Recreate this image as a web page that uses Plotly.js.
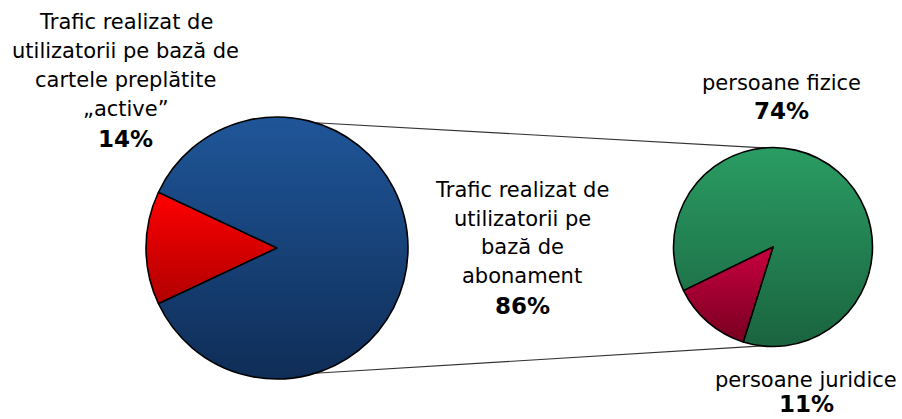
<!DOCTYPE html>
<html>
<head>
<meta charset="utf-8">
<script src="https://cdn.plot.ly/plotly-3.0.1.min.js"></script>
<style>html,body{margin:0;padding:0;background:#fff;}#chart{width:902px;height:419px;}</style>
</head>
<body>
<div id="chart"></div>
<script>
// ---- data ----
const mainLabels = ["Trafic realizat de utilizatorii pe bază de cartele preplătite „active”", "Trafic realizat de utilizatorii pe bază de abonament"];
const mainValues = [14, 86];
const subLabels = ["persoane fizice", "persoane juridice"];
const subValues = [74, 11];
const mainLabelLines = [
  ["Trafic realizat de", "utilizatorii pe bază de", "cartele preplătite", "„active”"],
  ["Trafic realizat de", "utilizatorii pe", "bază de", "abonament"]
];
const subLabelLines = [["persoane fizice"], ["persoane juridice"]];
const mainPct = ["14%", "86%"];
const subPct = ["74%", "11%"];

// ---- layout helpers ----
const W = 902, H = 419;
const px = x => x / W;
const py = y => 1 - y / H;

const L = {cx: 277, cy: 248, r: 131};
const R = {cx: 773, cy: 247, r: 99.5};

function domainOf(p) {
  return {x: [px(p.cx - p.r), px(p.cx + p.r)], y: [py(p.cy + p.r), py(p.cy - p.r)]};
}

const colorsMain = ["#e00000", "#184a88"];
const colorsSub = ["#24885a", "#a20032"];

const data = [
  {
    type: "pie", labels: mainLabels, values: mainValues, sort: false,
    direction: "clockwise", rotation: 270 - mainValues[0] / (mainValues[0] + mainValues[1]) * 180,
    domain: domainOf(L), textinfo: "none", hoverinfo: "label+percent",
    marker: {colors: colorsMain, line: {color: "#000", width: 1.6}},
    showlegend: false
  },
  {
    type: "pie", labels: subLabels, values: subValues, sort: false,
    direction: "clockwise", rotation: 244,
    domain: domainOf(R), textinfo: "none", hoverinfo: "label+percent",
    marker: {colors: colorsSub, line: {color: "#000", width: 1.6}},
    showlegend: false
  }
];

const font = {family: "DejaVu Sans, Verdana, sans-serif", size: 21, color: "#000"};
const bold = {family: "DejaVu Sans, Verdana, sans-serif", size: 23, color: "#000", weight: "bold"};
const annotations = [];
function block(lines, pct, x, yTop, step) {
  lines.forEach((t, i) => annotations.push({
    text: t, x: px(x), y: py(yTop + i * step), xref: "paper", yref: "paper",
    xanchor: "center", yanchor: "middle", showarrow: false, font: font
  }));
  annotations.push({
    text: "<b>" + pct + "</b>", x: px(x), y: py(yTop + lines.length * step + 1), xref: "paper", yref: "paper",
    xanchor: "center", yanchor: "middle", showarrow: false, font: bold
  });
}
block(mainLabelLines[0], mainPct[0], 126, 22, 29);
block(mainLabelLines[1], mainPct[1], 522, 190, 28.7);
block(subLabelLines[0], subPct[0], 781, 83, 27);
block(subLabelLines[1], subPct[1], 806, 380, 23);

function ptOn(p, degFromTop) {
  const a = degFromTop * Math.PI / 180;
  return [p.cx + p.r * Math.sin(a), p.cy - p.r * Math.cos(a)];
}
const t1 = ptOn(L, 17), t2 = ptOn(R, -5);
const b1 = ptOn(L, 163), b2 = ptOn(R, 186);
const shapes = [
  {type: "line", xref: "paper", yref: "paper", x0: px(t1[0]), y0: py(t1[1]), x1: px(t2[0]), y1: py(t2[1]), line: {color: "#333", width: 1.2}, layer: "below"},
  {type: "line", xref: "paper", yref: "paper", x0: px(b1[0]), y0: py(b1[1]), x1: px(b2[0]), y1: py(b2[1]), line: {color: "#333", width: 1.2}, layer: "below"}
];

const layout = {
  width: W, height: H, margin: {l: 0, r: 0, t: 0, b: 0},
  paper_bgcolor: "#fff", plot_bgcolor: "#fff",
  annotations: annotations, shapes: shapes, showlegend: false
};

const grads = [
  ["gRed", "#ff0000", "#b00000"],
  ["gBlue", "#1f5699", "#0f2d57"],
  ["gGreen", "#2a9c63", "#1a643f"],
  ["gCrim", "#c8003e", "#780020"]
];

Plotly.newPlot("chart", data, layout, {staticPlot: true}).then(gd => {
  const svg = gd.querySelector("svg.main-svg");
  const ns = "http://www.w3.org/2000/svg";
  let defs = svg.querySelector("defs");
  if (!defs) { defs = document.createElementNS(ns, "defs"); svg.insertBefore(defs, svg.firstChild); }
  grads.forEach(([id, c0, c1]) => {
    const lg = document.createElementNS(ns, "linearGradient");
    lg.setAttribute("id", id); lg.setAttribute("x1", "0"); lg.setAttribute("y1", "0");
    lg.setAttribute("x2", "0"); lg.setAttribute("y2", "1");
    [[0, c0], [1, c1]].forEach(([o, c]) => {
      const s = document.createElementNS(ns, "stop");
      s.setAttribute("offset", o); s.setAttribute("stop-color", c); lg.appendChild(s);
    });
    defs.appendChild(lg);
  });
  const traces = gd.querySelectorAll("g.trace");
  const ids = [["gRed", "gBlue"], ["gGreen", "gCrim"]];
  traces.forEach((tr, ti) => {
    tr.querySelectorAll("g.slice path.surface").forEach((p, si) => {
      if (ids[ti] && ids[ti][si]) p.style.fill = "url(#" + ids[ti][si] + ")";
    });
  });
});
</script>
</body>
</html>
